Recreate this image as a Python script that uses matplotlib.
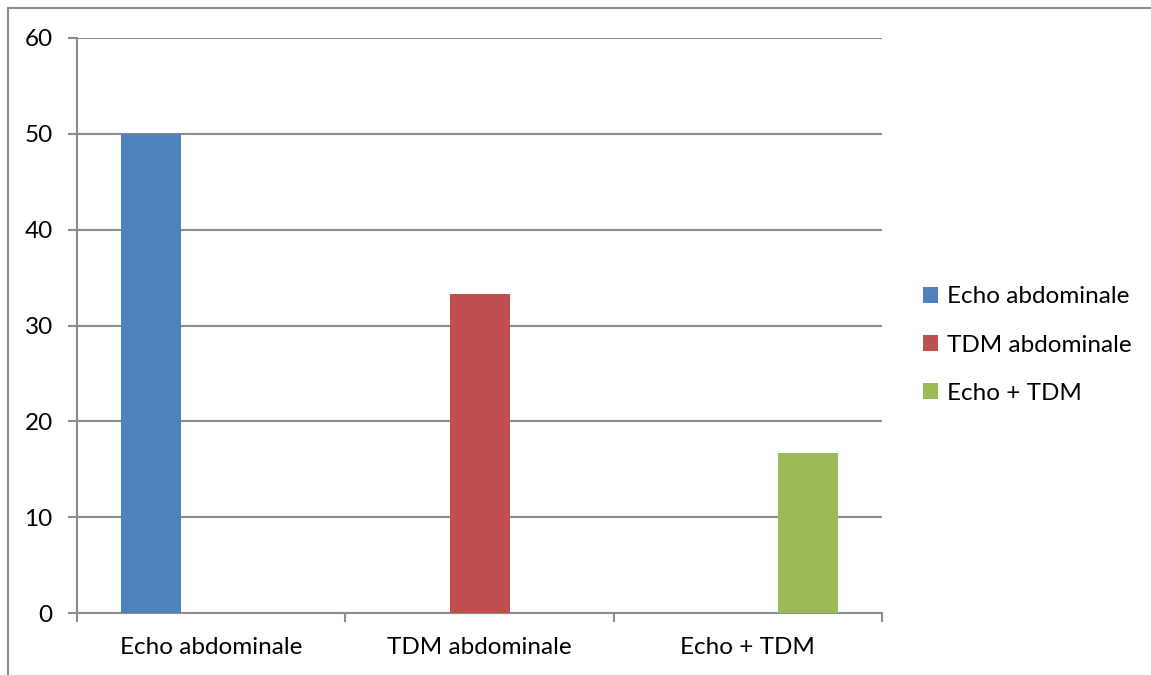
import matplotlib
matplotlib.use('Agg')
import matplotlib.pyplot as plt
from matplotlib.lines import Line2D
from matplotlib.patches import Patch
import numpy as np

categories = ['Echo abdominale', 'TDM abdominale', 'Echo + TDM']
series = ['Echo abdominale', 'TDM abdominale', 'Echo + TDM']
# one value per series, each series only present in its own category
values = [50, 33.3, 16.7]
colors = ['#4f81bd', '#c0504d', '#9bbb59']
yticks = [0, 10, 20, 30, 40, 50, 60]

plt.rcParams['font.family'] = ['Lato', 'DejaVu Sans']
grid_col = '#8c8c8c'
fs = 17.5

fig = plt.figure(figsize=(11.51, 6.75), dpi=100)
ax = fig.add_axes([77 / 1151, 62 / 675, 805 / 1151, 575 / 675])

width = 60 / (805 / 3)
x = np.arange(len(categories)) + 0.5
for i, (val, col) in enumerate(zip(values, colors)):
    ax.bar(x[i] + (i - 1) * width, val, width=width, color=col, zorder=3)

ax.set_xlim(0, 3)
ax.set_ylim(0, 60)
ax.set_yticks(yticks)
ax.set_yticklabels([str(t) for t in yticks], fontsize=fs)
ax.yaxis.grid(True, color=grid_col, linewidth=1.5, zorder=0)

ax.set_xticks([0, 1, 2, 3], minor=False)
ax.set_xticklabels([])
ax.set_xticks(x, minor=True)
ax.set_xticklabels(categories, minor=True, fontsize=fs)
ax.tick_params(axis='x', which='major', length=6.5, width=1.5, color=grid_col)
ax.tick_params(axis='x', which='minor', length=0, pad=17)
ax.tick_params(axis='y', length=6.5, width=1.5, color=grid_col, pad=11)

for side in ['top', 'right']:
    ax.spines[side].set_visible(False)
for side in ['left', 'bottom']:
    ax.spines[side].set_color(grid_col)
    ax.spines[side].set_linewidth(1.5)

handles = [Patch(facecolor=c, label=s) for c, s in zip(colors, series)]
fig.legend(handles=handles, loc='center left', bbox_to_anchor=(911 / 1151, 1 - 345 / 675),
           frameon=False, fontsize=fs, handlelength=0.62, handleheight=0.62,
           handletextpad=0.35, labelspacing=1.12, borderpad=0)

# outer chart frame
fig.add_artist(Line2D([8 / 1151, 8 / 1151], [0, 1 - 8 / 675], color=grid_col, linewidth=1.5))
fig.add_artist(Line2D([8 / 1151, 1], [1 - 8 / 675, 1 - 8 / 675], color=grid_col, linewidth=1.5))

fig.savefig('out.png', dpi=100)
